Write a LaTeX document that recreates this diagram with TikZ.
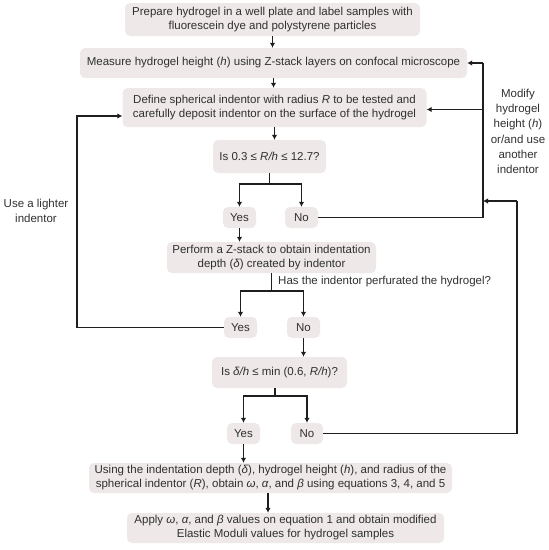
\documentclass[tikz,border=0pt]{standalone}
\usepackage{fontspec}
\setmainfont{Liberation Sans}
\usetikzlibrary{arrows.meta}
\definecolor{boxfill}{HTML}{EEE8E8}
\definecolor{txt}{HTML}{303030}
\definecolor{ln}{HTML}{1E1E1E}
\begin{document}
\begin{tikzpicture}[x=1pt,y=-1pt,
  box/.style={fill=boxfill, rounded corners=5pt, align=center, inner sep=0pt, text=txt, font=\fontsize{11.5}{14}\selectfont},
  yn/.style={box, minimum width=33pt, minimum height=21pt},
  conn/.style={draw=ln, line width=1.5pt},
  arr/.style={conn, -{Latex[length=5pt,width=5.5pt]}},
  lbl/.style={align=center, text=txt, inner sep=0pt, font=\fontsize{11.5}{15.3}\selectfont}]
\useasboundingbox (0,0) rectangle (549,550);

\node[box, minimum width=295pt, minimum height=33pt] (b1) at (272.5,19.5) {Prepare hydrogel in a well plate and label samples with\\fluorescein dye and polystyrene particles};
\node[box, minimum width=387pt, minimum height=30pt] (b2) at (273.5,63) {Measure hydrogel height (\textit{h}) using Z-stack layers on confocal microscope};
\node[box, minimum width=304pt, minimum height=39pt] (b3) at (274.5,107.5) {Define spherical indentor with radius \textit{R} to be tested and\\carefully deposit indentor on the surface of the hydrogel};
\node[box, minimum width=113pt, minimum height=33pt] (b4) at (269.5,156.5) {Is 0.3 ≤ \textit{R/h} ≤ 12.7?};
\node[yn] (yes1) at (239.5,217.5) {Yes};
\node[yn] (no1) at (301.5,217.5) {No};
\node[box, minimum width=209pt, minimum height=31pt] (b5) at (271.5,257.5) {Perform a Z-stack to obtain indentation\\depth (\textit{δ}) created by indentor};
\node[yn] (yes2) at (240.5,327.5) {Yes};
\node[yn] (no2) at (303.5,327.5) {No};
\node[box, minimum width=135pt, minimum height=31pt] (b6) at (279.5,372.5) {Is \textit{δ/h} ≤ min (0.6, \textit{R/h})?};
\node[yn] (yes3) at (243.5,433.5) {Yes};
\node[yn, minimum width=32pt] (no3) at (307,433.5) {No};
\node[box, minimum width=363pt, minimum height=30pt] (b7) at (270.5,478) {Using the indentation depth (\textit{δ}), hydrogel height (\textit{h}), and radius of the\\spherical indentor (\textit{R}), obtain \textit{ω}, \textit{α}, and \textit{β} using equations 3, 4, and 5};
\node[box, minimum width=317pt, minimum height=30pt] (b8) at (285.5,528) {Apply \textit{ω}, \textit{α}, and \textit{β} values on equation 1 and obtain modified\\Elastic Moduli values for hydrogel samples};

\node[lbl] (rl) at (518,131.5) {Modify\\hydrogel\\height (\textit{h})\\or/and use\\another\\indentor};
\node[lbl, font=\fontsize{11.5}{15}\selectfont] (ll) at (36,210.5) {Use a lighter\\indentor};
\node[lbl, anchor=west] (has) at (278,282) {Has the indentor perfurated the hydrogel?};

\coordinate (rtop) at (483,63);
\coordinate (r2) at (517,201);
\coordinate (lft) at (77,328);
\coordinate (b3r) at ([yshift=-2pt]b3.east);
\coordinate (b3l) at ([yshift=-8.5pt]b3.west);

% main flow
\draw[arr] (b1.south) -- (b1.south |- b2.north);
\draw[arr] (b2.south) -- (b2.south |- b3.north);
\draw[arr] (b3.south) -- (b3.south |- b4.north);
\draw[arr] (b4.south) -- ++(0,11) -| (yes1.north);
\draw[arr] (b4.south) ++(0,11) -| (no1.north);
\draw[arr] (yes1.south) -- (yes1.south |- b5.north);
\draw[arr] (b5.south) -- ++(0,18) -| (yes2.north);
\draw[arr] (b5.south) ++(0,18) -| (no2.north);
\draw[arr] (no2.south) -- (no2.south |- b6.north);
\draw[arr] ([xshift=-4.5pt]b6.south) -- ++(0,8) -| (yes3.north);
\draw[arr] ([xshift=-4.5pt]b6.south) ++(0,8) -| (no3.north);
\draw[arr] (yes3.south) -- (yes3.south |- b7.north);
\draw[arr] ([xshift=-2.5pt]b7.south) -- ([xshift=-2.5pt]b7.south |- b8.north);

% right loop
\draw[conn] (no1.east) -| (rtop);
\draw[arr] (rtop) -- (b2.east);
\draw[arr] (rtop |- b3r) -- (b3r);
\draw[conn] (no3.east) -| (r2);
\draw[arr] (r2) -- (r2 -| rtop);

% left loop
\draw[arr] (yes2.west) -| (lft |- b3l) -- (b3l);
\end{tikzpicture}
\end{document}
